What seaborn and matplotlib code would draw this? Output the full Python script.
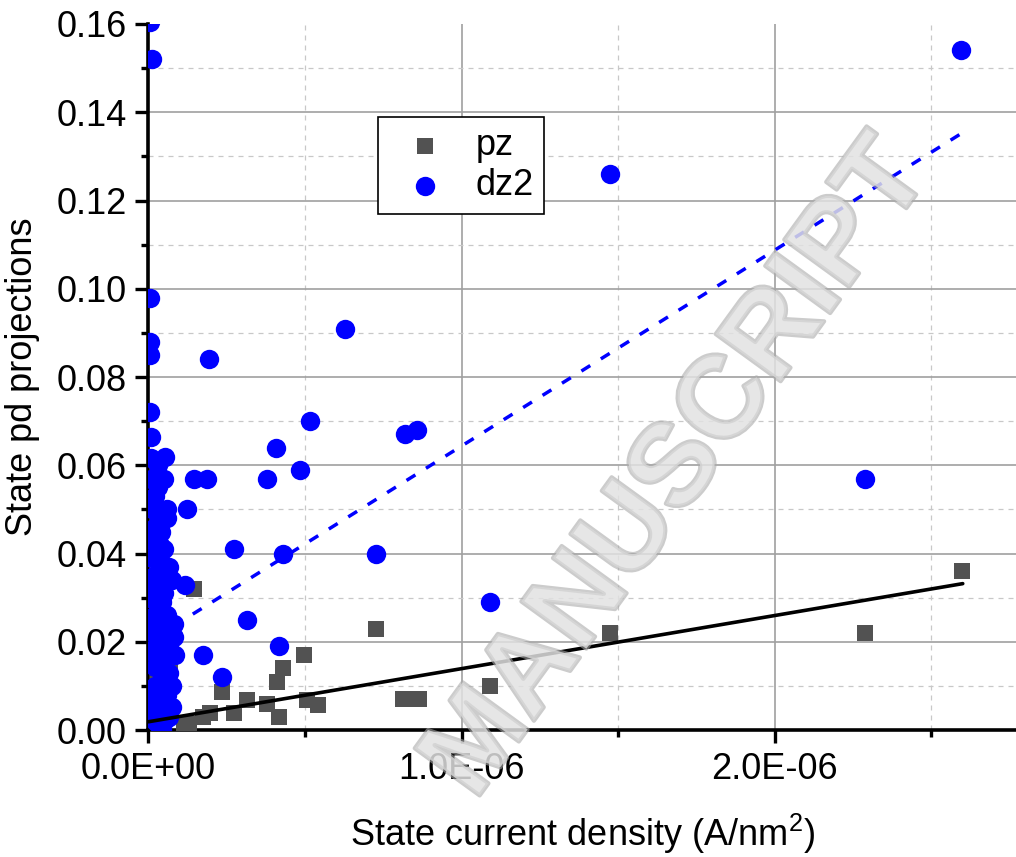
import matplotlib
matplotlib.use("Agg")
import matplotlib.pyplot as plt
import matplotlib.patheffects as pe
from matplotlib.ticker import MultipleLocator, FuncFormatter
import pandas as pd
import seaborn as sns

# ---------------- data ----------------
# pz projections vs state current density (A/nm^2)
pz_x = [0.145e-6, 0.498e-6, 0.430e-6, 0.410e-6, 0.235e-6, 0.315e-6, 0.379e-6,
        0.507e-6, 0.543e-6, 0.272e-6, 0.416e-6, 0.176e-6, 0.198e-6, 0.113e-6,
        0.129e-6, 0.070e-6, 0.060e-6, 0.726e-6, 0.813e-6, 0.864e-6, 1.091e-6,
        1.474e-6, 2.287e-6, 2.597e-6, 0.020e-6, 0.040e-6, 0.050e-6, 0.030e-6]
pz_y = [0.032, 0.017, 0.014, 0.011, 0.0087, 0.0068, 0.006,
        0.0068, 0.0058, 0.0038, 0.003, 0.003, 0.0039, 0.0015,
        0.0015, 0.0136, 0.0185, 0.023, 0.007, 0.007, 0.010,
        0.022, 0.022, 0.036, 0.003, 0.008, 0.005, 0.012]

# dz2 projections vs state current density (A/nm^2)
dz2_x = [0.005e-6, 0.013e-6, 0.005e-6, 0.005e-6, 0.005e-6, 0.006e-6, 0.009e-6,
         0.009e-6, 0.052e-6, 0.049e-6, 0.010e-6, 0.030e-6, 0.022e-6, 0.012e-6,
         0.060e-6, 0.060e-6, 0.022e-6, 0.008e-6, 0.038e-6, 0.012e-6, 0.065e-6,
         0.017e-6, 0.076e-6, 0.030e-6, 0.005e-6, 0.043e-6, 0.022e-6, 0.060e-6,
         0.081e-6, 0.045e-6, 0.017e-6, 0.081e-6, 0.065e-6, 0.005e-6, 0.035e-6,
         0.086e-6, 0.022e-6, 0.065e-6, 0.040e-6, 0.075e-6, 0.012e-6, 0.030e-6,
         0.075e-6, 0.005e-6, 0.054e-6, 0.022e-6, 0.043e-6,
         0.030e-6, 0.035e-6, 0.040e-6, 0.045e-6, 0.025e-6, 0.050e-6, 0.035e-6,
         0.050e-6, 0.025e-6, 0.045e-6, 0.055e-6, 0.020e-6, 0.040e-6, 0.060e-6,
         0.015e-6, 0.030e-6, 0.065e-6, 0.010e-6, 0.010e-6, 0.050e-6, 0.040e-6,
         0.145e-6, 0.187e-6, 0.123e-6, 0.118e-6, 0.272e-6, 0.195e-6, 0.628e-6,
         0.517e-6, 0.820e-6, 0.858e-6, 0.408e-6, 0.485e-6, 0.378e-6, 0.430e-6,
         0.726e-6, 0.315e-6, 0.416e-6, 0.176e-6, 0.235e-6, 1.091e-6, 1.474e-6,
         2.287e-6, 2.593e-6]
dz2_y = [0.1605, 0.152, 0.098, 0.088, 0.085, 0.072, 0.0665,
         0.0617, 0.062, 0.057, 0.057, 0.060, 0.053, 0.050,
         0.050, 0.048, 0.046, 0.043, 0.042, 0.039, 0.037,
         0.035, 0.034, 0.031, 0.030, 0.029, 0.026, 0.026,
         0.024, 0.022, 0.022, 0.021, 0.019, 0.018, 0.017,
         0.017, 0.0143, 0.013, 0.011, 0.010, 0.0084, 0.006,
         0.0053, 0.004, 0.0023, 0.002, 0.000,
         0.055, 0.048, 0.038, 0.034, 0.040, 0.031, 0.025,
         0.020, 0.019, 0.015, 0.011, 0.010, 0.006, 0.008,
         0.006, 0.0015, 0.003, 0.025, 0.033, 0.041, 0.045,
         0.057, 0.057, 0.050, 0.033, 0.041, 0.084, 0.091,
         0.070, 0.067, 0.068, 0.064, 0.059, 0.057, 0.040,
         0.040, 0.025, 0.019, 0.017, 0.012, 0.029, 0.126,
         0.057, 0.154]

# linear fit lines (end points)
pz_fit_x = [0.0, 2.60e-6]
pz_fit_y = [0.0019, 0.0332]
dz2_fit_x = [0.142e-6, 2.60e-6]
dz2_fit_y = [0.0263, 0.1354]

series_labels = ["pz", "dz2"]
x_label = "State current density (A/nm$^2$)"
y_label = "State pd projections"
watermark = "MANUSCRIPT"

# ---------------- style ----------------
sns.set_theme(style="white")
plt.rcParams["font.family"] = ["Liberation Sans", "DejaVu Sans"]
plt.rcParams["mathtext.fontset"] = "custom"
plt.rcParams["mathtext.rm"] = "Liberation Sans"
for key in ["text.color", "axes.labelcolor", "xtick.color", "ytick.color"]:
    plt.rcParams[key] = "black"

fig = plt.figure(figsize=(10.16, 8.57), dpi=100)
ax = fig.add_axes([0.146, 0.148, 0.854, 0.824])

pz_df = pd.DataFrame({"x": pz_x, "y": pz_y})
dz2_df = pd.DataFrame({"x": dz2_x, "y": dz2_y})

sns.scatterplot(data=pz_df, x="x", y="y", marker="s", s=135, color="#525252",
                linewidth=0, label=series_labels[0], ax=ax, zorder=3)
sns.scatterplot(data=dz2_df, x="x", y="y", marker="o", s=195, color="#0000ff",
                linewidth=0, label=series_labels[1], ax=ax, zorder=4)

sns.lineplot(x=pz_fit_x, y=pz_fit_y, color="black", linewidth=2.6, ax=ax,
             zorder=5, legend=False)
sns.lineplot(x=dz2_fit_x, y=dz2_fit_y, color="#0000ff", linewidth=2.5, ax=ax,
             zorder=5, legend=False)
ax.lines[-1].set_dashes([3.0, 3.6])

ax.set_xlim(0, 2.77e-6)
ax.set_ylim(0, 0.16)

ax.xaxis.set_major_locator(MultipleLocator(1e-6))
ax.xaxis.set_minor_locator(MultipleLocator(0.5e-6))
ax.yaxis.set_major_locator(MultipleLocator(0.02))
ax.yaxis.set_minor_locator(MultipleLocator(0.01))
ax.xaxis.set_major_formatter(FuncFormatter(lambda v, p: f"{v:.1E}"))
ax.yaxis.set_major_formatter(FuncFormatter(lambda v, p: f"{v:.2f}"))

ax.set_axisbelow(True)
ax.grid(which="major", color="#a0a0a0", linewidth=1.2, linestyle="-")
ax.grid(which="minor", color="#c8c8c8", linewidth=0.9, linestyle=(0, (4, 4)))

for side in ["top", "right"]:
    ax.spines[side].set_visible(False)
for side in ["left", "bottom"]:
    ax.spines[side].set_color("black")
    ax.spines[side].set_linewidth(2.6)

ax.tick_params(which="major", direction="out", length=9.5, width=2.4,
               labelsize=26, bottom=True, left=True, pad=6)
ax.tick_params(which="minor", direction="out", length=5, width=2.4,
               bottom=True, left=True)

ax.set_xlabel(x_label, fontsize=26, labelpad=18)
ax.set_ylabel(y_label, fontsize=26, labelpad=12)

leg = ax.legend(loc="upper left", bbox_to_anchor=(0.265, 0.868),
                borderaxespad=0, fontsize=26, frameon=True, fancybox=False,
                edgecolor="black", handletextpad=0.39, borderpad=0.3,
                labelspacing=0.15, handlelength=2.0)
leg.get_frame().set_linewidth(1.2)
leg.get_frame().set_alpha(1)

fig.canvas.draw()
# no grid line on the top edge of the axes
for gl in ax.yaxis.get_gridlines():
    if abs(gl.get_ydata()[0] - 0.16) < 1e-9:
        gl.set_visible(False)

fig.text(0.668, 0.452, watermark, fontsize=84, fontweight="bold",
         color="#e2e2e2", alpha=0.6, rotation=54, rotation_mode="anchor",
         ha="center", va="center", zorder=10,
         path_effects=[pe.withStroke(linewidth=3, foreground="#aaaaaa")])

fig.savefig("out.png", dpi=100)
